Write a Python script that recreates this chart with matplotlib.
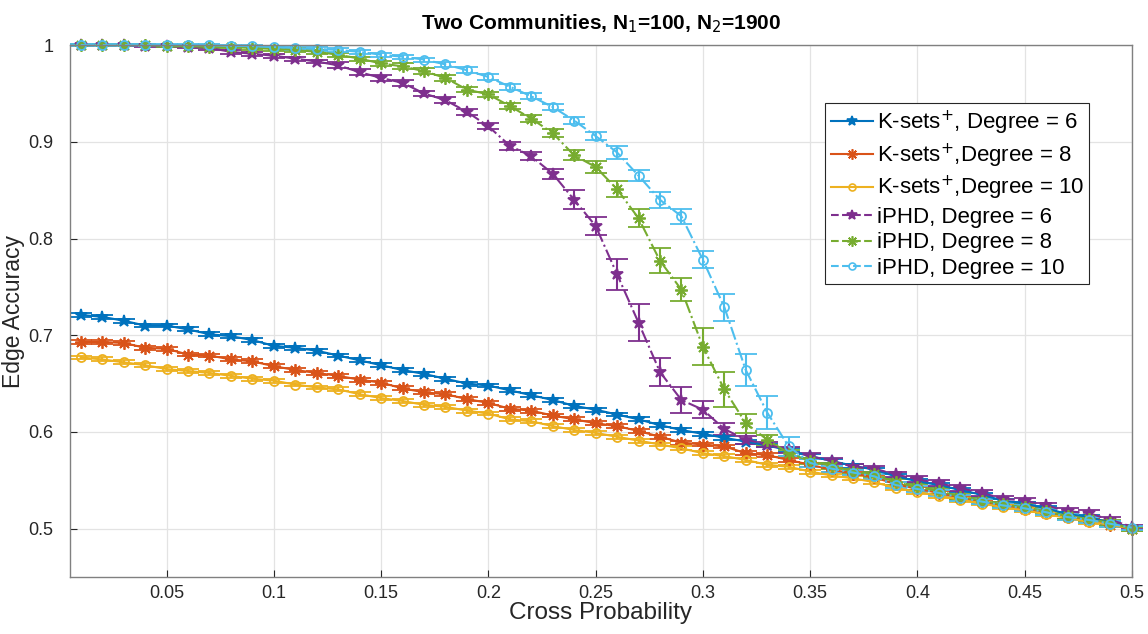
import matplotlib
matplotlib.use("Agg")
import matplotlib.pyplot as plt
from matplotlib.lines import Line2D
import numpy as np

plt.rcParams["font.family"] = ["Liberation Sans", "DejaVu Sans"]

cross_prob = np.round(np.arange(1, 51) * 0.01, 2)

ksets_deg6 = [0.721, 0.719, 0.715, 0.710, 0.710, 0.706, 0.701, 0.699, 0.695, 0.689,
              0.687, 0.684, 0.679, 0.674, 0.669, 0.664, 0.660, 0.655, 0.650, 0.648,
              0.643, 0.638, 0.633, 0.627, 0.623, 0.618, 0.613, 0.607, 0.602, 0.598,
              0.594, 0.590, 0.586, 0.581, 0.575, 0.570, 0.565, 0.561, 0.554, 0.549,
              0.545, 0.540, 0.535, 0.529, 0.526, 0.521, 0.515, 0.512, 0.506, 0.501]
ksets_deg8 = [0.693, 0.693, 0.692, 0.687, 0.686, 0.680, 0.679, 0.675, 0.673, 0.668,
              0.664, 0.661, 0.658, 0.654, 0.651, 0.645, 0.641, 0.639, 0.634, 0.630,
              0.624, 0.622, 0.617, 0.613, 0.609, 0.606, 0.601, 0.595, 0.589, 0.587,
              0.585, 0.578, 0.576, 0.571, 0.566, 0.561, 0.557, 0.553, 0.546, 0.541,
              0.537, 0.532, 0.528, 0.524, 0.520, 0.516, 0.512, 0.508, 0.504, 0.500]
ksets_deg10 = [0.677, 0.675, 0.672, 0.669, 0.665, 0.663, 0.661, 0.658, 0.655, 0.653,
               0.649, 0.646, 0.644, 0.639, 0.635, 0.632, 0.628, 0.626, 0.622, 0.619,
               0.613, 0.611, 0.606, 0.602, 0.599, 0.595, 0.591, 0.587, 0.583, 0.578,
               0.575, 0.571, 0.566, 0.564, 0.559, 0.555, 0.552, 0.548, 0.542, 0.538,
               0.534, 0.530, 0.526, 0.522, 0.519, 0.515, 0.511, 0.507, 0.504, 0.500]
iphd_deg6 = [1.000, 1.000, 1.000, 0.999, 0.999, 0.998, 0.997, 0.993, 0.991, 0.989,
             0.986, 0.983, 0.979, 0.972, 0.966, 0.961, 0.950, 0.943, 0.931, 0.916,
             0.896, 0.885, 0.867, 0.840, 0.813, 0.763, 0.713, 0.662, 0.633, 0.623,
             0.603, 0.592, 0.587, 0.581, 0.575, 0.570, 0.564, 0.562, 0.556, 0.551,
             0.547, 0.542, 0.537, 0.531, 0.529, 0.524, 0.518, 0.516, 0.509, 0.502]
iphd_deg8 = [1.000, 1.000, 1.000, 1.000, 0.999, 0.999, 0.998, 0.998, 0.997, 0.996,
             0.995, 0.993, 0.990, 0.986, 0.981, 0.978, 0.973, 0.966, 0.954, 0.949,
             0.937, 0.924, 0.909, 0.886, 0.874, 0.851, 0.821, 0.777, 0.747, 0.688,
             0.644, 0.609, 0.592, 0.578, 0.570, 0.565, 0.559, 0.556, 0.548, 0.543,
             0.539, 0.533, 0.529, 0.525, 0.522, 0.518, 0.513, 0.510, 0.506, 0.500]
iphd_deg10 = [1.000, 1.000, 1.000, 1.000, 1.000, 1.000, 1.000, 0.999, 0.999, 0.998,
              0.997, 0.996, 0.995, 0.993, 0.990, 0.988, 0.985, 0.980, 0.974, 0.967,
              0.957, 0.947, 0.936, 0.922, 0.906, 0.889, 0.865, 0.840, 0.823, 0.778,
              0.729, 0.664, 0.620, 0.585, 0.568, 0.562, 0.558, 0.554, 0.545, 0.541,
              0.537, 0.532, 0.528, 0.524, 0.521, 0.517, 0.512, 0.509, 0.505, 0.501]

# half-widths of the error bars
ksets_err = [0.002] * 50
iphd_deg6_err = [0.001, 0.001, 0.001, 0.001, 0.001, 0.001, 0.002, 0.002, 0.002, 0.002,
                 0.002, 0.002, 0.003, 0.003, 0.003, 0.003, 0.003, 0.003, 0.003, 0.003,
                 0.004, 0.004, 0.005, 0.010, 0.009, 0.016, 0.019, 0.014, 0.013, 0.009,
                 0.006, 0.004, 0.003, 0.003, 0.003, 0.003, 0.003, 0.003, 0.003, 0.003,
                 0.003, 0.003, 0.003, 0.003, 0.003, 0.003, 0.003, 0.003, 0.003, 0.002]
iphd_deg8_err = [0.001, 0.001, 0.001, 0.001, 0.001, 0.001, 0.001, 0.001, 0.002, 0.002,
                 0.002, 0.002, 0.002, 0.002, 0.003, 0.003, 0.003, 0.003, 0.003, 0.003,
                 0.003, 0.004, 0.004, 0.005, 0.006, 0.008, 0.009, 0.013, 0.012, 0.019,
                 0.018, 0.010, 0.005, 0.003, 0.003, 0.003, 0.003, 0.003, 0.003, 0.003,
                 0.003, 0.003, 0.003, 0.003, 0.003, 0.003, 0.003, 0.003, 0.003, 0.002]
iphd_deg10_err = [0.001, 0.001, 0.001, 0.001, 0.001, 0.001, 0.001, 0.001, 0.001, 0.001,
                  0.002, 0.002, 0.002, 0.002, 0.002, 0.002, 0.002, 0.003, 0.003, 0.003,
                  0.003, 0.003, 0.003, 0.004, 0.004, 0.007, 0.006, 0.008, 0.008, 0.009,
                  0.014, 0.017, 0.017, 0.010, 0.004, 0.003, 0.003, 0.003, 0.003, 0.003,
                  0.003, 0.003, 0.003, 0.003, 0.003, 0.003, 0.003, 0.003, 0.003, 0.002]

labels = ["K-sets$^{+}$, Degree = 6", "K-sets$^{+}$,Degree = 8", "K-sets$^{+}$,Degree = 10",
          "iPHD, Degree = 6", "iPHD, Degree = 8", "iPHD, Degree = 10"]
series = [ksets_deg6, ksets_deg8, ksets_deg10, iphd_deg6, iphd_deg8, iphd_deg10]
errors = [ksets_err, ksets_err, ksets_err, iphd_deg6_err, iphd_deg8_err, iphd_deg10_err]
colors = ["#0072BD", "#D95319", "#EDB120", "#7E2F8E", "#77AC30", "#4DBEEE"]
markers = ["*", (8, 2, 0), "o", "*", (8, 2, 0), "o"]
styles = ["-", "-", "-", "-.", "-.", "-."]
legend_styles = ["-", "-", "-", "--", "--", "--"]

fig = plt.figure(figsize=(11.48, 6.34), dpi=100)
ax = fig.add_axes([0.061, 0.0899, 0.925, 0.839])

handles = []
for y, err, col, mk, ls, lls, lab in zip(series, errors, colors, markers, styles,
                                          legend_styles, labels):
    hollow = mk == "o"
    ms = 6.5 if hollow else 9
    ax.errorbar(cross_prob, y, yerr=err, color=col, linestyle=ls, linewidth=1.5,
                marker=mk, markersize=ms, markeredgewidth=1.3,
                markerfacecolor="none" if hollow else col,
                capsize=8, capthick=1.5, elinewidth=1.5, clip_on=False)
    handles.append(Line2D([], [], color=col, linestyle=lls, linewidth=1.5, marker=mk,
                          markersize=ms - 1.5, markeredgewidth=1.2,
                          markerfacecolor="none" if hollow else col))

ax.set_xlim(0.005, 0.5)
ax.set_ylim(0.45, 1.0)
ax.set_xticks([0.05, 0.1, 0.15, 0.2, 0.25, 0.3, 0.35, 0.4, 0.45, 0.5])
ax.set_xticklabels(["0.05", "0.1", "0.15", "0.2", "0.25", "0.3", "0.35", "0.4", "0.45", "0.5"])
ax.set_yticks([0.5, 0.6, 0.7, 0.8, 0.9, 1.0])
ax.set_yticklabels(["0.5", "0.6", "0.7", "0.8", "0.9", "1"])
ax.tick_params(direction="in", length=5, labelsize=13, colors="#262626")
ax.tick_params(axis="y", pad=12)
ax.tick_params(axis="x", pad=6)
ax.grid(True, color="#e3e3e3", linewidth=0.9)
ax.set_axisbelow(True)
for sp in ax.spines.values():
    sp.set_color("#808080")
    sp.set_linewidth(1.0)

ax.set_xlabel("Cross Probability", fontsize=17.5, color="#262626", labelpad=0)
ax.set_ylabel("Edge Accuracy", fontsize=16.5, color="#262626")
ax.yaxis.set_label_coords(-0.042, 0.5)
ax.set_title("Two Communities, N$_1$=100, N$_2$=1900", fontsize=15, fontweight="bold",
             pad=11)

leg = ax.legend(handles, labels, loc="upper right", bbox_to_anchor=(0.960, 0.891),
                borderaxespad=0, fontsize=16, handlelength=1.9, handletextpad=0.15,
                labelspacing=0.2, borderpad=0.25, fancybox=False, framealpha=1)
leg.get_frame().set_edgecolor("#262626")
leg.get_frame().set_linewidth(0.8)

fig.savefig("out.png", dpi=100)
